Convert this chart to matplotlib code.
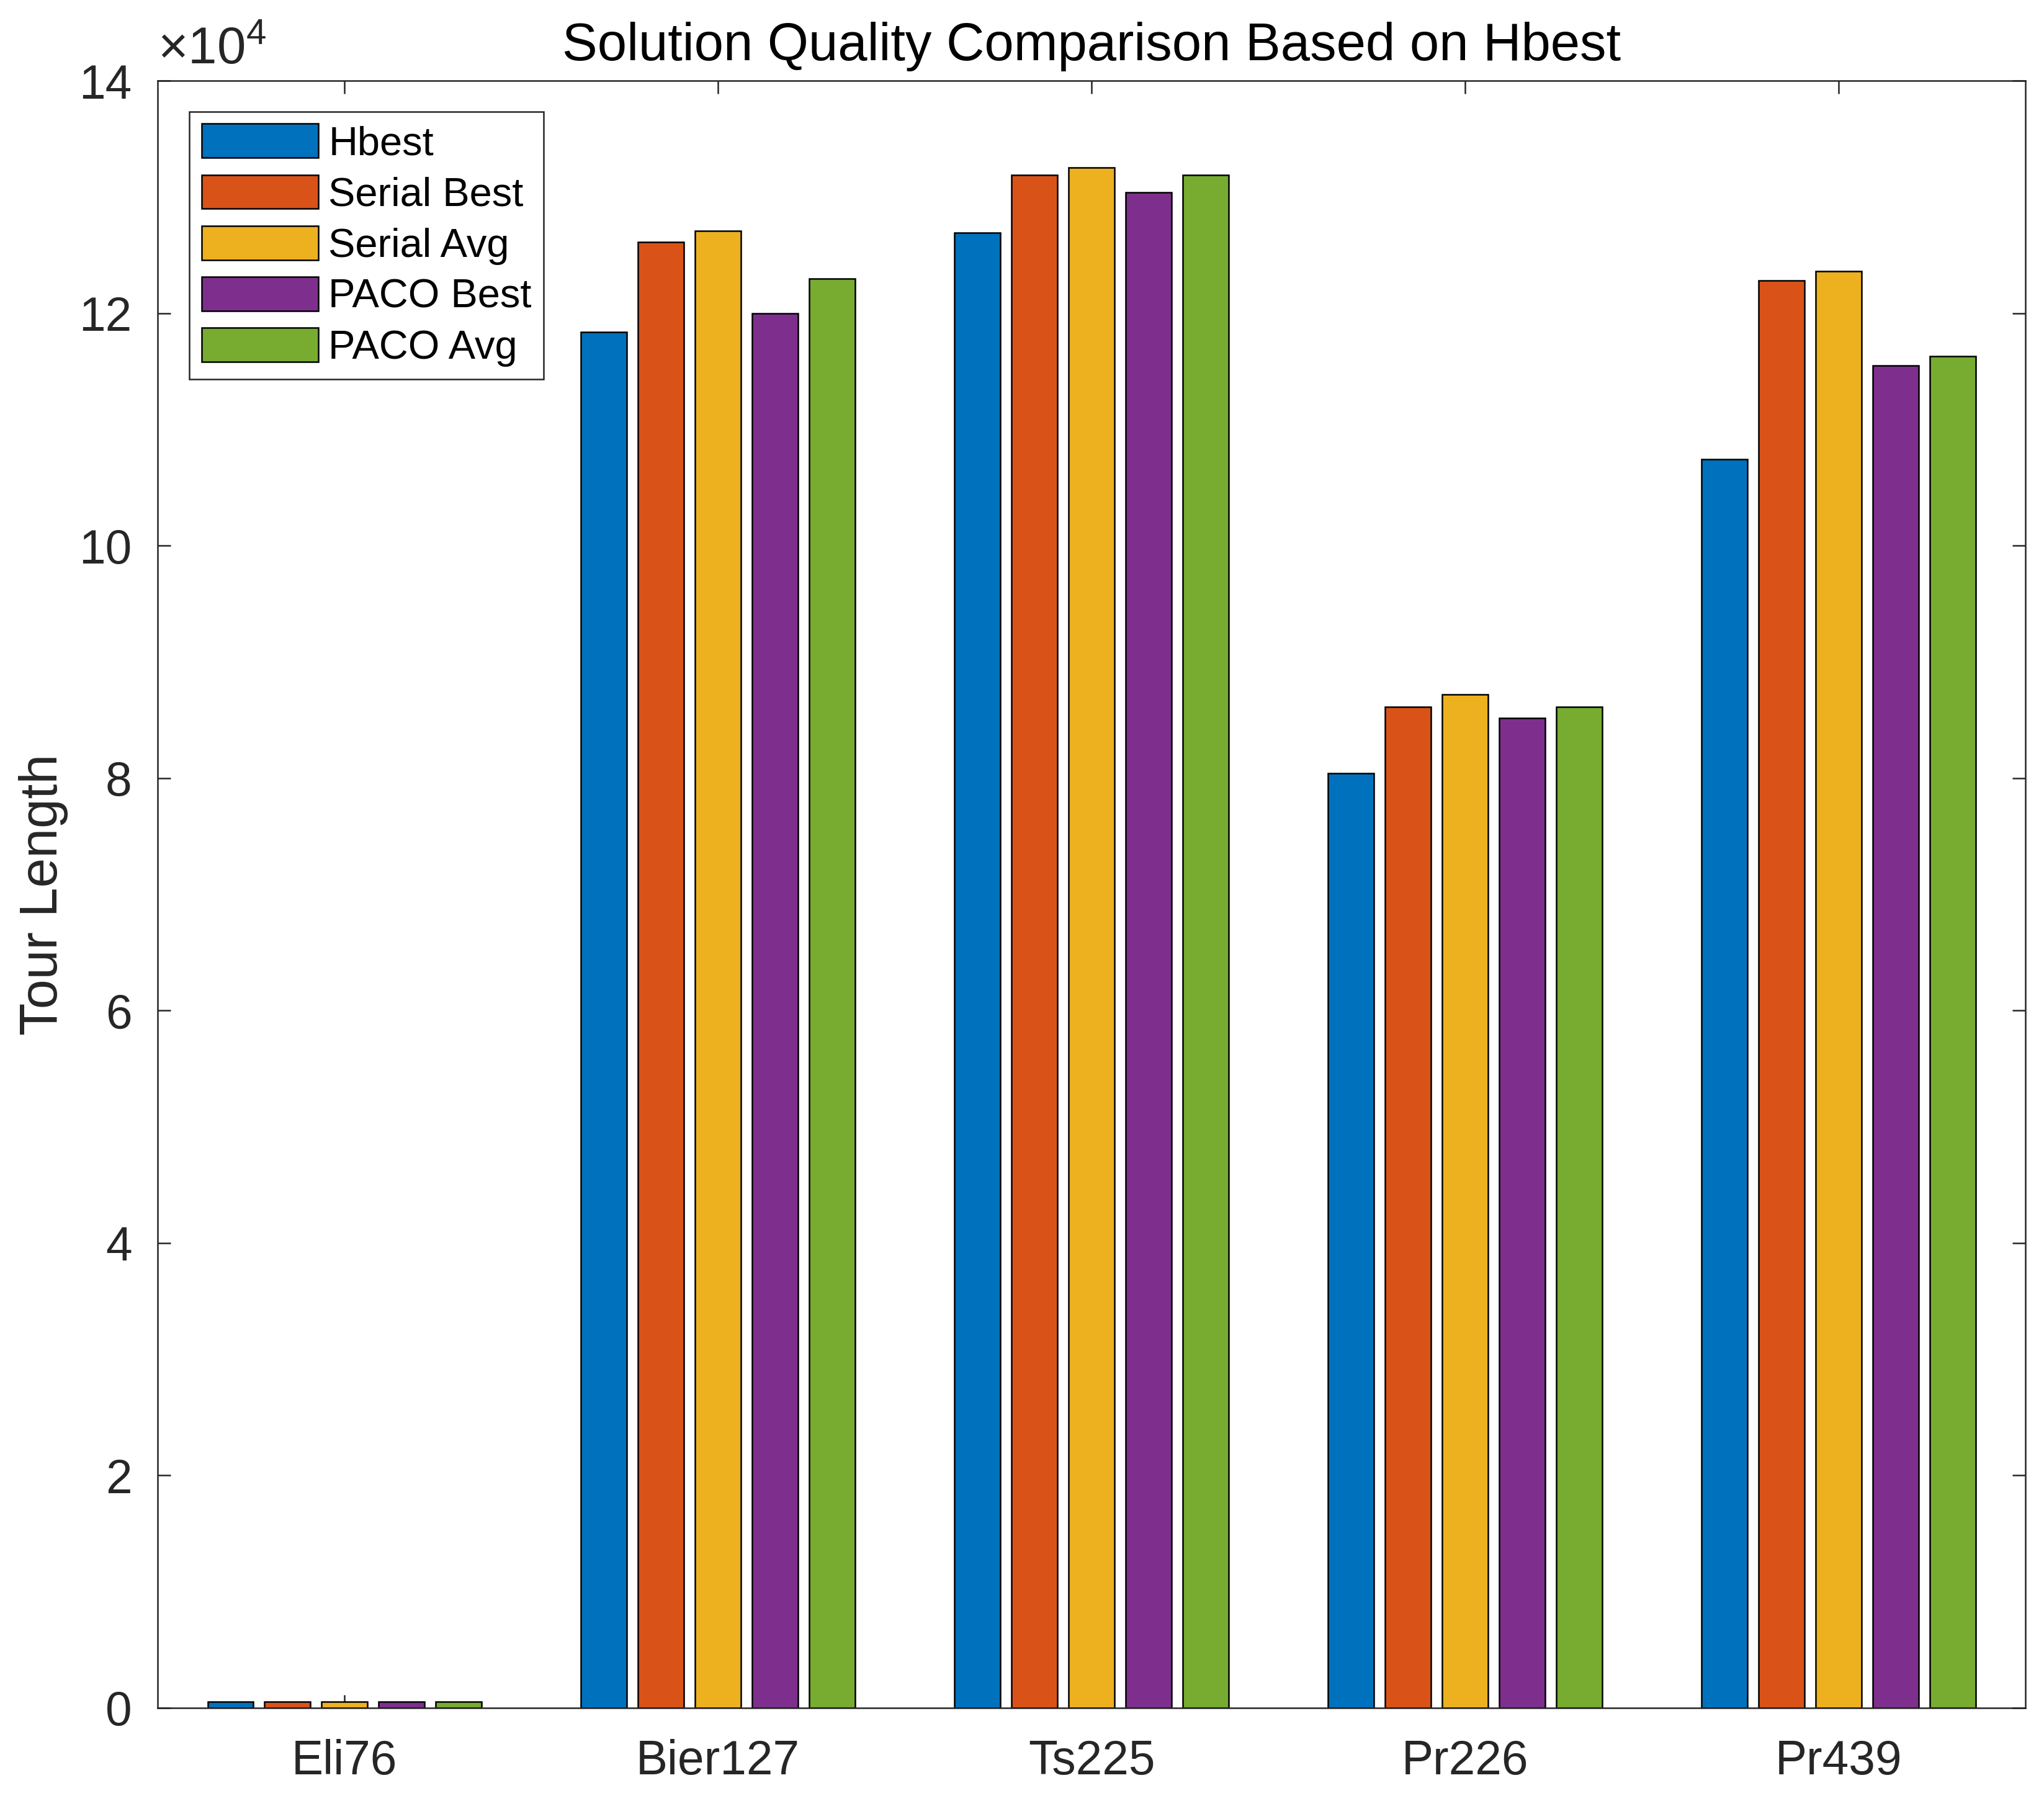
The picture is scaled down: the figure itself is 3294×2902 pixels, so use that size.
import matplotlib
matplotlib.use("Agg")
import matplotlib.pyplot as plt
import numpy as np
from matplotlib.ticker import FuncFormatter, MultipleLocator

plt.rcParams['font.family'] = ['Liberation Sans', 'DejaVu Sans']
plt.rcParams['mathtext.fontset'] = 'custom'
plt.rcParams['mathtext.rm'] = 'Liberation Sans'
plt.rcParams['mathtext.it'] = 'Liberation Sans'

categories = ["Eli76", "Bier127", "Ts225", "Pr226", "Pr439"]
series_names = ["Hbest", "Serial Best", "Serial Avg", "PACO Best", "PACO Avg"]
hbest       = [538, 118350, 126900, 80400, 107450]
serial_best = [545, 126100, 131900, 86150, 122800]
serial_avg  = [550, 127100, 132500, 87200, 123600]
paco_best   = [540, 120000, 130400, 85150, 115500]
paco_avg    = [545, 122950, 131900, 86150, 116300]
series = [hbest, serial_best, serial_avg, paco_best, paco_avg]
colors = ["#0072BD", "#D95319", "#EDB120", "#7E2F8E", "#77AC30"]

dark = "#262626"
fig = plt.figure(figsize=(3295/300, 2902/300), dpi=300)
ax = fig.add_axes([0.0771, 0.0517, 0.9135, 0.9035])

x = np.arange(1, len(categories) + 1)
step = 0.1528
width = 0.1215
for i, (vals, name, c) in enumerate(zip(series, series_names, colors)):
    ax.bar(x + (i - 2) * step, vals, width=width, color=c, edgecolor='black',
           linewidth=0.6, label=name, zorder=2)

ax.set_xlim(0.5, 5.5)
ax.set_ylim(0, 140000)
ax.set_xticks(x)
ax.set_xticklabels(categories)
ax.yaxis.set_major_locator(MultipleLocator(20000))
ax.yaxis.set_major_formatter(FuncFormatter(lambda v, p: f"{v/1e4:g}"))

ax.tick_params(axis='both', which='both', direction='in', length=5, width=0.6,
               colors=dark, labelsize=18.4, top=True, right=True,
               labelcolor=dark)
ax.tick_params(axis='x', pad=12)
ax.tick_params(axis='y', pad=10)
for s in ax.spines.values():
    s.set_color(dark)
    s.set_linewidth(0.6)

ax.set_ylabel("Tour Length", fontsize=20.6, color=dark, labelpad=4)
ax.set_title("Solution Quality Comparison Based on Hbest", fontsize=20.4,
             color='black', pad=8)
ax.text(0.0, 1.004, r"$\times10^4$", transform=ax.transAxes, fontsize=20,
        color=dark, ha='left', va='bottom')

leg = ax.legend(loc='upper left', bbox_to_anchor=(0.017, 0.981), fontsize=15.6,
                frameon=True, fancybox=False, framealpha=1, edgecolor=dark,
                handlelength=2.9, handleheight=0.92, labelspacing=0.3,
                handletextpad=0.25, borderpad=0.3, borderaxespad=0.0)
leg.get_frame().set_linewidth(0.6)
for t in leg.get_texts():
    t.set_color('black')

fig.savefig("out.png", dpi=300, facecolor='white')
